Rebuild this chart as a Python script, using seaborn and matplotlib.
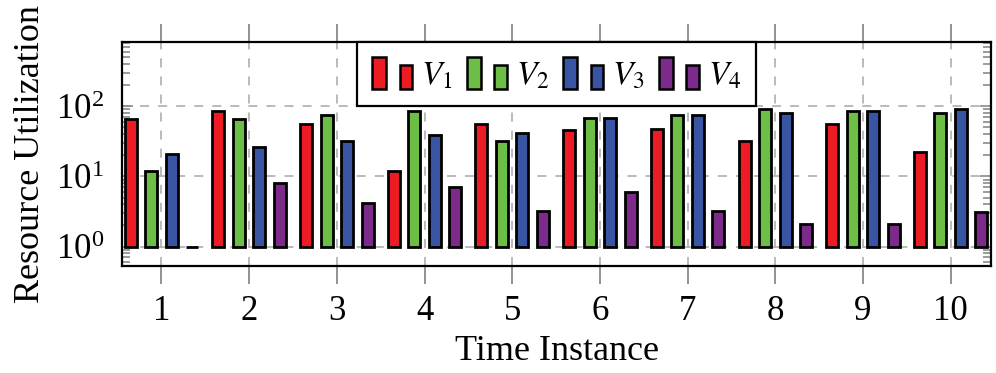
import matplotlib
matplotlib.use('Agg')
import matplotlib.pyplot as plt
import pandas as pd
import seaborn as sns
from matplotlib.patches import Rectangle
from matplotlib.legend_handler import HandlerBase
from matplotlib.ticker import LogLocator, NullFormatter

# values (log scale, bars start at 10^0)
instances = [1, 2, 3, 4, 5, 6, 7, 8, 9, 10]
vm_names = ['V1', 'V2', 'V3', 'V4']
v1 = [65, 87, 56, 12, 56, 46, 48, 32, 56, 22]
v2 = [12, 65, 75, 87, 32, 69, 75, 92, 87, 80]
v3 = [21, 26, 32, 39, 42, 69, 75, 80, 87, 92]
v4 = [1, 8, 4.2, 7, 3.2, 6, 3.2, 2.1, 2.1, 3.1]
legend_labels = [r'$V_1$', r'$V_2$', r'$V_3$', r'$V_4$']
colors = ['#ED1C24', '#6CBE45', '#3A54A4', '#7D2B8B']


class PairBarHandler(HandlerBase):
    # pgfplots-style ybar legend image: a tall bar next to a shorter one
    def create_artists(self, legend, orig_handle, xdescent, ydescent,
                       width, height, fontsize, trans):
        kw = dict(facecolor=orig_handle.get_facecolor(), edgecolor='black',
                  linewidth=1.8, transform=trans)
        tall = Rectangle((-xdescent, -ydescent), 0.36 * width, height, **kw)
        short = Rectangle((-xdescent + 0.69 * width, -ydescent),
                          0.31 * width, 0.74 * height, **kw)
        return [tall, short]


df = pd.DataFrame({
    'instance': instances * 4,
    'vm': [n for n in vm_names for _ in instances],
    'util': v1 + v2 + v3 + v4,
})

sns.set_style('white')
plt.rcParams['font.family'] = ['Liberation Serif', 'DejaVu Serif']
plt.rcParams['mathtext.fontset'] = 'stix'
plt.rcParams['text.color'] = 'black'
plt.rcParams['axes.labelcolor'] = 'black'

fig = plt.figure(figsize=(9.96, 3.73), dpi=100)
ax = fig.add_axes([0.1225, 0.287, 0.8725, 0.6])

sns.barplot(data=df, x='instance', y='util', hue='vm', hue_order=vm_names,
            palette=dict(zip(vm_names, colors)), native_scale=True,
            width=0.936, gap=0.415, saturation=1, errorbar=None,
            edgecolor='black', linewidth=2.0, legend=False, ax=ax)

ax.set_yscale('log')
# bars grow from 10^0 like in pgfplots
for p in ax.patches:
    top = p.get_y() + p.get_height()
    p.set_y(1)
    p.set_height(top - 1)

ax.set_xlim(0.55, 10.46)
ax.set_ylim(0.53, 820)
ax.set_xticks(instances)
ax.set_xticklabels([str(i) for i in instances])
ax.yaxis.set_major_locator(LogLocator(base=10, numticks=10))
ax.yaxis.set_minor_locator(LogLocator(base=10, subs=range(2, 10), numticks=20))
ax.yaxis.set_minor_formatter(NullFormatter())

ax.set_axisbelow(True)
ax.grid(True, which='major', color='#b4b4b4', linestyle=(0, (5, 5)), linewidth=1.3)

ax.tick_params(axis='x', which='major', direction='out', length=13, width=1.3,
               color='#8a8a8a', labelcolor='black', top=True, bottom=True,
               labelsize=25, pad=8)
ax.tick_params(axis='x', which='minor', length=0)
ax.tick_params(axis='y', which='both', direction='in', left=True, right=True,
               color='#8a8a8a', labelcolor='black', width=1.2, labelsize=25, pad=13)
ax.tick_params(axis='y', which='major', length=8)
ax.tick_params(axis='y', which='minor', length=6)

for s in ax.spines.values():
    s.set_color('black')
    s.set_linewidth(1.6)

ax.set_xlabel('Time Instance', fontsize=26, labelpad=5)
ax.set_ylabel('Resource Utilization', fontsize=26, labelpad=6)

handles = [Rectangle((0, 0), 1, 1, facecolor=c, edgecolor='black') for c in colors]
leg = ax.legend(handles, legend_labels, handler_map={Rectangle: PairBarHandler()},
                loc='upper center', ncol=4, frameon=True, fancybox=False,
                edgecolor='black', framealpha=1, fontsize=24,
                handlelength=1.2, handleheight=1.1, handletextpad=0.27,
                columnspacing=0.42, borderaxespad=0, borderpad=0.45)
leg.get_frame().set_linewidth(1.6)

fig.savefig('out.png', dpi=100)
